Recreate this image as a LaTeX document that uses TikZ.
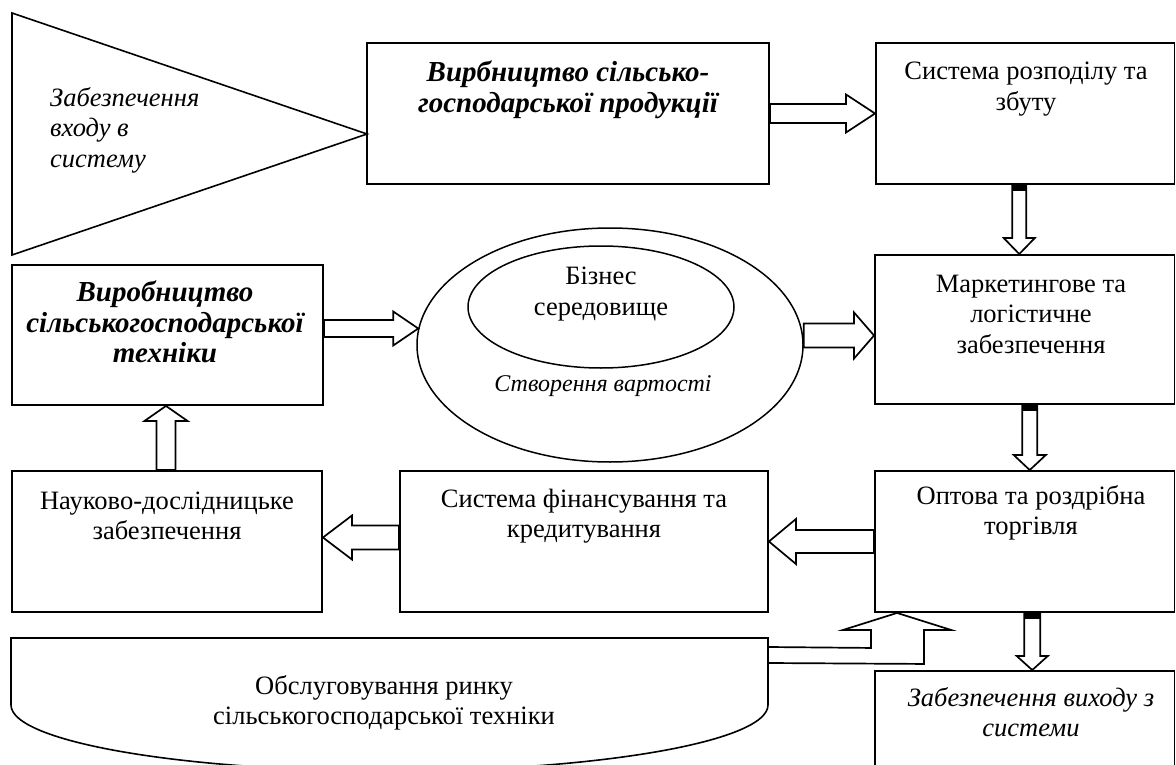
\documentclass[tikz,border=0pt]{standalone}
\usepackage{fontspec}
\setmainfont{Liberation Serif}
\usetikzlibrary{calc,shapes.geometric}

\tikzset{
  frame/.style={draw, line width=1.9pt, rectangle, inner sep=0pt},
  oval/.style={draw, line width=1.5pt, ellipse, inner sep=0pt},
  blk/.style={draw, fill=white, line width=1.7pt, line join=miter},
  txt/.style={align=center, inner sep=0pt, font=\fontsize{26.5}{30.5}\selectfont},
  itxt/.style={txt, font=\fontsize{26.5}{30.5}\selectfont\itshape},
  btxt/.style={txt, font=\fontsize{29}{30.5}\selectfont\bfseries\itshape},
}

% block arrow: tail, tip, shaft half-width, head half-width, head length
\newcommand\blockarrow[5]{%
  \path ($(#2)!#5!(#1)$) coordinate (ab);
  \draw[blk] ($(#1)!#3!90:(#2)$) -- ($(ab)!#3!90:(#2)$) -- ($(ab)!#4!90:(#2)$)
    -- (#2) -- ($(ab)!#4!-90:(#2)$) -- ($(ab)!#3!-90:(#2)$) -- ($(#1)!#3!-90:(#2)$) -- cycle;
}
% black cap on the tail of a downward arrow
\newcommand\arrowcap[2]{\fill ($(#1)+(-#2,-1)$) rectangle ($(#1)+(#2,6)$);}

\begin{document}
\begin{tikzpicture}[x=1pt,y=-1pt]
\useasboundingbox (0,0) rectangle (1176,765);
\clip (0,0) rectangle (1176,765);

% input triangle
\draw[line width=1.6pt, line join=miter] (12,13) -- (367,134) coordinate (tri-apex) -- (12,255) -- cycle;
\node[itxt, align=left, anchor=west] (t-in) at (50,130) {Забезпечення\\входу в\\систему};

% boxes
\node[frame, minimum width=402pt, minimum height=141pt] (A) at (568,113.5) {};
\node[frame, minimum width=298.5pt, minimum height=141pt] (B) at (1025.25,113.5) {};
\node[frame, minimum width=299.5pt, minimum height=149pt] (C) at (1024.75,329.5) {};
\node[frame, minimum width=299.5pt, minimum height=141pt] (D) at (1024.75,541.5) {};
\node[frame, minimum width=299.5pt, minimum height=129pt] (E) at (1024.75,735.5) {};
\node[frame, minimum width=311pt, minimum height=140pt] (F) at (167.5,335) {};
\node[frame, minimum width=310pt, minimum height=141pt] (G) at (167,541.5) {};
\node[frame, minimum width=368pt, minimum height=141pt] (H) at (584,541.5) {};

% ellipses
\node[oval, minimum width=386pt, minimum height=234pt] (O) at (610,345) {};
\node[oval, minimum width=266pt, minimum height=122pt] (I) at (601,307) {};

% market service shape
\draw[line width=1.6pt] (11,705) -- (11,638) -- (768,638) -- (768,705)
  arc[start angle=0, end angle=-180, x radius=378.5pt, y radius=66pt] -- cycle;
\coordinate (Sr) at (768,655);

% texts
\node[btxt] (t-A) at (568,90) {Вирбництво сільсько-\\господарської продукції};
\node[txt] (t-B) at (1026,89) {Система розподілу та\\збуту};
\node[txt] (t-C) at (1031,314) {Маркетингове та\\логістичне\\забезпечення};
\node[txt] (t-D) at (1031,513) {Оптова та роздрібна\\торгівля};
\node[itxt] (t-E) at (1031,712) {Забезпечення виходу з\\системи};
\node[btxt] (t-F) at (165,322) {Виробництво\\сільськогосподарської\\техніки};
\node[txt] (t-G) at (167,516) {Науково-дослідницьке\\забезпечення};
\node[txt] (t-H) at (584,516) {Система фінансування та\\кредитування};
\node[txt] (t-I) at (601,294) {Бізнес\\середовище};
\node[itxt, font=\fontsize{24}{28}\selectfont\itshape] (t-O) at (603,386) {Створення вартості};
\node[txt] (t-S) at (384,703) {Обслуговування ринку\\сільськогосподарської техніки};

% connectors
\blockarrow{A.east}{B.west}{9.5pt}{19pt}{29pt}

\coordinate (bc1) at ($(B.south)+(-6,0)$);
\coordinate (bc2) at (bc1 |- C.north);
\blockarrow{bc1}{bc2}{7pt}{15.5pt}{16pt}
\arrowcap{bc1}{7}

\coordinate (cd1) at ($(C.south)+(5,0)$);
\coordinate (cd2) at (cd1 |- D.north);
\blockarrow{cd1}{cd2}{7.5pt}{16pt}{15pt}
\arrowcap{cd1}{7.5}

\coordinate (de1) at ($(D.south)+(7.5,0)$);
\coordinate (de2) at (de1 |- E.north);
\blockarrow{de1}{de2}{8pt}{15.5pt}{14pt}
\arrowcap{de1}{8}

\coordinate (fo1) at ($(F.east)+(0,-6.5)$);
\coordinate (fo2) at ($(O.west)+(2,-16.5)$);
\blockarrow{fo1}{fo2}{8.5pt}{17pt}{25pt}

\coordinate (oc2) at ($(C.west)+(0,6)$);
\coordinate (oc1) at (O.east |- oc2);
\blockarrow{oc1}{oc2}{12pt}{23pt}{20pt}

\blockarrow{D.west}{H.east}{11.5pt}{22.5pt}{27pt}

\coordinate (hg1) at ($(H.west)+(0,-4)$);
\coordinate (hg2) at ($(G.east)+(0,-4)$);
\blockarrow{hg1}{hg2}{12pt}{22pt}{29pt}

\coordinate (gf1) at ($(G.north)+(-1,0)$);
\coordinate (gf2) at (gf1 |- F.south);
\blockarrow{gf1}{gf2}{9.5pt}{21.5pt}{15pt}

% bent arrow from the service shape up to the trade box
\coordinate (sd) at ($(D.south west)+(23,0)$);
\draw[blk] ($(Sr)+(0,-8)$) -- ($(sd)+(-26,35)$) -- ($(sd)+(-26,17)$) -- ($(sd)+(-54,17)$)
  -- (sd) -- ($(sd)+(54,17)$) -- ($(sd)+(27,17)$) -- ($(sd)+(27,51)$) -- ($(Sr)+(0,8)$) -- cycle;
\end{tikzpicture}
\end{document}
